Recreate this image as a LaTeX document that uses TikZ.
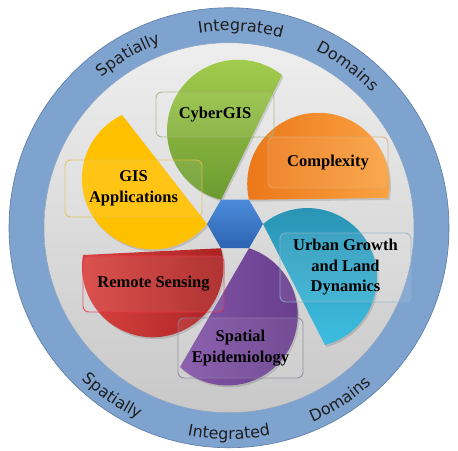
\documentclass[tikz,border=0pt]{standalone}
\usepackage{fontspec}
\setmainfont{Liberation Serif}
\newfontfamily\ringfamily{DejaVu Sans}
\usetikzlibrary{calc,decorations.text}
\definecolor{ringblue}{HTML}{7FA3CF}
\definecolor{ringline}{HTML}{5B7BA5}
\definecolor{innertop}{HTML}{EEEEEE}
\definecolor{innerbot}{HTML}{C8C8C8}
\definecolor{grT}{HTML}{A5CF4E}
\definecolor{grB}{HTML}{6C9A30}
\definecolor{orL}{HTML}{EB7719}
\definecolor{orR}{HTML}{FBA443}
\definecolor{yel}{HTML}{FFC000}
\definecolor{reL}{HTML}{DA4541}
\definecolor{reR}{HTML}{A92121}
\definecolor{puL}{HTML}{8355A8}
\definecolor{puR}{HTML}{673D8C}
\definecolor{teT}{HTML}{2A93B3}
\definecolor{teB}{HTML}{3DBDE0}
\definecolor{hexT}{HTML}{4C8CDB}
\definecolor{hexB}{HTML}{2C63B0}
\definecolor{boxgr}{HTML}{9FB27A}
\definecolor{boxor}{HTML}{E0A878}
\definecolor{boxye}{HTML}{E6C24A}
\definecolor{boxte}{HTML}{86B8CE}
\definecolor{boxre}{HTML}{E8344C}
\definecolor{boxpu}{HTML}{8C809C}
\definecolor{ringtext}{HTML}{1E1E1E}
\newcommand\ringfont{\ringfamily\fontsize{16}{18}\selectfont\color{ringtext}}
\newcommand\lblfont{\bfseries\fontsize{16.5}{20.5}\selectfont}
\newcommand\petalpath[3]{%
  \path[#3] let \p1=($(#2)-(#1)$), \n1={atan2(\y1,\x1)}, \n2={veclen(\x1,\y1)/2},
    \n3={atan(15/\n2)}, \n4={sqrt(\n2*\n2+225)} in
    (#1) -- (#2) arc[start angle=\n1-\n3, end angle=\n1+180+\n3, radius=\n4] -- cycle;}
\newcommand\petal[3]{%
  \begin{scope}[transform canvas={shift={(1.5pt,-2pt)}}]
    \petalpath{#1}{#2}{fill=black, opacity=0.13}
  \end{scope}
  \petalpath{#1}{#2}{#3}}
\begin{document}
\begin{tikzpicture}[x=1pt,y=1pt,
  lbl/.style={draw=#1, draw opacity=0.8, line width=0.9pt, rounded corners=6pt,
    fill=white, fill opacity=0.08, text opacity=1, font=\lblfont, align=center, inner sep=0pt},
  toptext/.style={decorate, decoration={text along path, text={|\ringfont|#1}, text align=center}},
  bottext/.style={decorate, decoration={text along path, text={|\ringfont|#1}, text align=center}}]
\useasboundingbox (0,0) rectangle (458,450);
\fill[white] (0,0) rectangle (458,450);
\coordinate (C) at (229,222.25);
\fill[ringblue] (C) circle[radius=220];
\draw[ringline, line width=0.6pt] (C) circle[radius=220];
\shade[top color=innertop, bottom color=innerbot] (C) circle[radius=185];
\draw[ringline!70, line width=0.5pt] (C) circle[radius=185];
% ring texts
\path[toptext=Spatially] ($(C)+(140.3:197)$) arc[start angle=140.3, end angle=100.3, radius=197];
\path[toptext=Integrated] ($(C)+(106.6:197)$) arc[start angle=106.6, end angle=66.6, radius=197];
\path[toptext=Domains] ($(C)+(73.7:197)$) arc[start angle=73.7, end angle=33.7, radius=197];
\path[bottext=Spatially] ($(C)+(215.3:211.5)$) arc[start angle=215.3, end angle=255.3, radius=211.5];
\path[bottext=Integrated] ($(C)+(250:211.5)$) arc[start angle=250, end angle=290, radius=211.5];
\path[bottext=Domains] ($(C)+(282.8:211.5)$) arc[start angle=282.8, end angle=322.8, radius=211.5];
% hexagon vertices
\coordinate (H) at (235,226);
\foreach \i in {0,...,5} \coordinate (V\i) at ($(H)+(\i*60:28)$);
% petal ends
\coordinate (Qor) at (388,252);
\coordinate (Qgr) at (282,375);
\coordinate (Qye) at (122,335);
\coordinate (Qre) at (83,195);
\coordinate (Qpu) at (180,83);
\coordinate (Qte) at (325,105);
\petal{V1}{Qor}{left color=orL, right color=orR}
\petal{V2}{Qgr}{top color=grT, bottom color=grB}
\petal{V3}{Qye}{fill=yel}
\petal{V4}{Qre}{left color=reL, right color=reR}
\petal{V5}{Qpu}{left color=puL, right color=puR}
\petal{V0}{Qte}{top color=teT, bottom color=teB}
\shade[top color=hexT, bottom color=hexB] (V0)--(V1)--(V2)--(V3)--(V4)--(V5)--cycle;
% labels
\node[lbl=boxgr, minimum width=118pt, minimum height=45pt] (cyber) at (215,335.5) {CyberGIS};
\node[lbl=boxor, minimum width=120pt, minimum height=51pt] (complex) at (328,287.5) {Complexity};
\node[lbl=boxye, minimum width=137pt, minimum height=57pt] (gis) at (133.5,261.5) {GIS\\Applications};
\node[lbl=boxte, minimum width=131pt, minimum height=69pt] (urban) at (345.5,182.5) {Urban Growth\\and Land\\Dynamics};
\node[lbl=boxre, minimum width=141pt, minimum height=56pt] (remote) at (153.5,166) {Remote Sensing};
\node[lbl=boxpu, minimum width=125pt, minimum height=60pt] (epi) at (240.5,102) {Spatial\\Epidemiology};
\end{tikzpicture}
\end{document}
